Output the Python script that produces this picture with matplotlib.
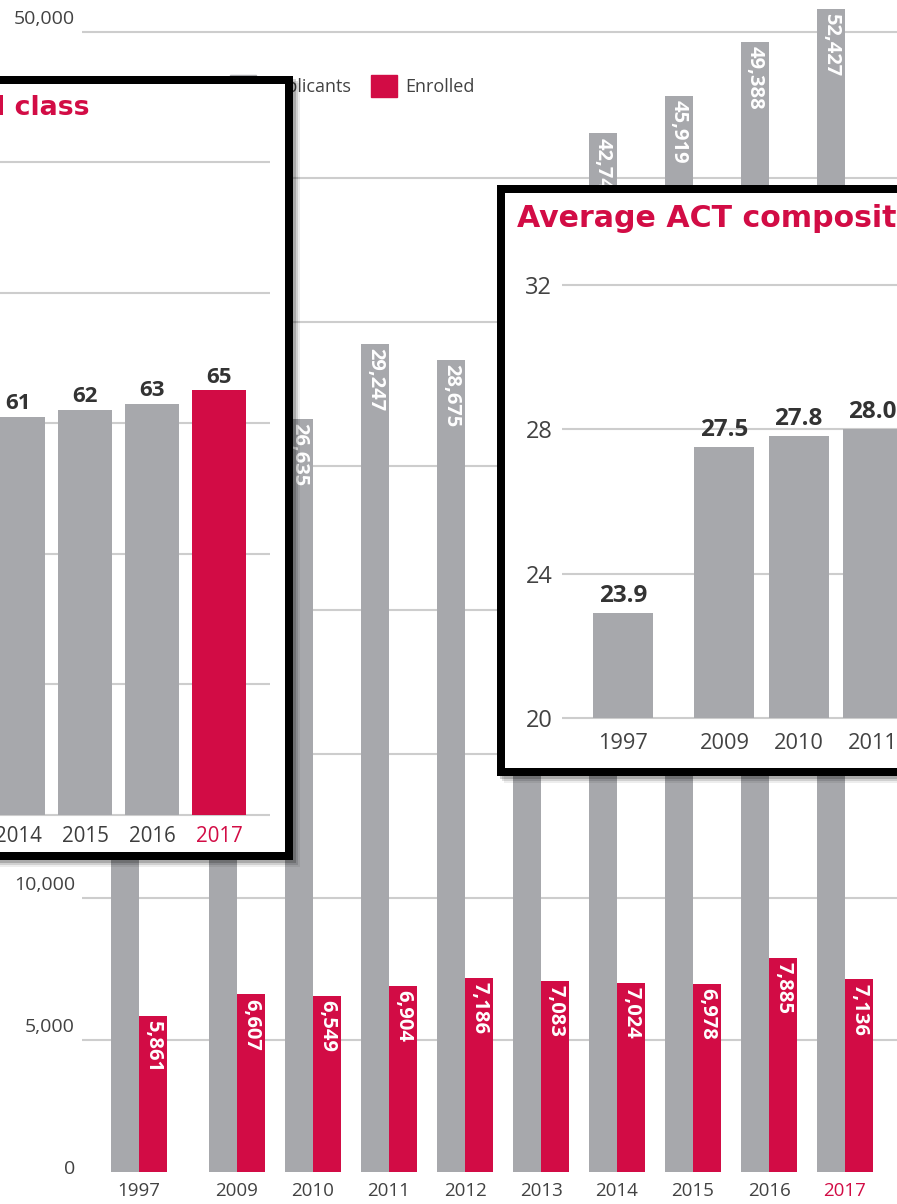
import matplotlib.pyplot as plt
import numpy as np
from matplotlib.patches import Rectangle, Patch

plt.rcParams['font.family'] = ['Open Sans', 'DejaVu Sans']

# ---- main chart: applicants vs enrolled ----
years = ['1997', '2009', '2010', '2011', '2012', '2013', '2014', '2015', '2016', '2017']
applicants = [16000, 22000, 26635, 29247, 28675, 32000, 42741, 45919, 49388, 52427]
enrolled = [5861, 6607, 6549, 6904, 7186, 7083, 7024, 6978, 7885, 7136]

# ---- inset 1: share of the class (%) ----
top_years = ['2014', '2015', '2016', '2017']
top_pct = [61, 62, 63, 65]

# ---- inset 2: average ACT composite ----
act_years = ['1997', '2009', '2010', '2011']
act_bar = [22.9, 27.5, 27.8, 28.0]        # heights as drawn on the axis
act_text = ['23.9', '27.5', '27.8', '28.0']  # numbers printed over the bars

# the main chart's value axis is not even: breakpoints (value -> px above base)
scale_vals = [0, 5000, 10000, 35000, 40000, 45000, 50000, 55000]
scale_px = [0, 132, 274, 994, 1010, 1062, 1140, 1188]

GRAY = '#A7A8AC'
RED = '#D20C45'
GRID = '#CDCDCD'
TXT = '#424242'
DARK = '#333333'

W, H = 897, 1204
fig = plt.figure(figsize=(W / 100, H / 100), dpi=100)
fig.patch.set_facecolor('white')


def box(l, t, r, b):
    # pixel box (from top-left) -> figure fraction
    return [l / W, 1 - b / H, (r - l) / W, (b - t) / H]


def framed(l, t, r, b):
    # white panel with thick black border and a soft drop shadow
    for k, a in [(3, 0.18), (5, 0.12), (7, 0.07)]:
        fig.add_artist(Rectangle(((l - 4 + k) / W, 1 - (b + 4 + k) / H),
                                 (r - l + 8) / W, (b - t + 8) / H,
                                 transform=fig.transFigure, fc='black',
                                 ec='none', alpha=a, zorder=1.5))
    fig.add_artist(Rectangle((l / W, 1 - b / H), (r - l) / W, (b - t) / H,
                             transform=fig.transFigure, fc='white', ec='black',
                             lw=5.76, zorder=2))


# ================= main chart =================
ax = fig.add_axes(box(82, 0, 897, 1172))
fwd = lambda v: np.interp(v, scale_vals, scale_px)
inv = lambda u: np.interp(u, scale_px, scale_vals)
ax.set_yscale('function', functions=(fwd, inv))
ax.set_ylim(0, inv(1172))

x = np.array([0] + list(np.arange(9) + 1.29))
w = 0.368
ax.bar(x - w / 2, applicants, w, color=GRAY, zorder=2)
ax.bar(x + w / 2, enrolled, w, color=RED, zorder=2)
ax.set_xlim(-0.75, 9.974)

for xi, v in zip(x - w / 2, applicants):
    ax.annotate(f'{v:,}', (xi, v), xytext=(0, -3), textcoords='offset points',
                rotation=-90, ha='center', va='top', color='white', fontsize=14.5,
                fontweight='bold', zorder=3)
for xi, v in zip(x + w / 2, enrolled):
    ax.annotate(f'{v:,}', (xi, v), xytext=(0, -3), textcoords='offset points',
                rotation=-90, ha='center', va='top', color='white', fontsize=14.5,
                fontweight='bold', zorder=3)

# gridlines, with the value labels sitting just above each line
yt = [0, 5000, 10000, 15000, 20000, 25000, 30000, 35000, 50000]
ax.set_yticks(yt)
ax.tick_params(axis='y', length=0, labelleft=False)
for v in yt:
    lift = 2 if v == 0 else 9
    ax.annotate(f'{v:,}', (0, v), xycoords=('axes fraction', 'data'),
                xytext=(-5, lift), textcoords='offset points', ha='right',
                va='center', fontsize=14, color=TXT)
ax.set_xticks(x)
ax.set_xticklabels(years)
ax.tick_params(axis='x', length=0, pad=7, labelsize=13.5, labelcolor=TXT)
ax.get_xticklabels()[-1].set_color(RED)
ax.yaxis.grid(True, color=GRID, lw=1.5)
ax.set_axisbelow(True)
ax.get_ygridlines()[0].set_visible(False)
for s in ax.spines.values():
    s.set_visible(False)

ax.legend(handles=[Patch(color=GRAY), Patch(color=RED)],
          labels=['Applicants', 'Enrolled'], loc='center left',
          bbox_to_anchor=(230 / W, 1 - 86 / H), bbox_transform=fig.transFigure,
          ncol=2, frameon=False, fontsize=13, handlelength=1.45,
          handleheight=1.45, handletextpad=0.45, columnspacing=1.1,
          borderpad=0, borderaxespad=0, labelcolor=TXT)

# ================= inset 1 =================
framed(-400, 80, 289, 856)
ax2 = fig.add_axes(box(-10, 149, 270, 818))
ax2.set_zorder(3)
ax2.patch.set_visible(False)
xt = np.arange(len(top_years))
ax2.bar(xt, top_pct, 0.806, color=[GRAY] * 3 + [RED], zorder=2)
ax2.set_xlim(-0.418, 3.761)
ax2.set_ylim(-0.5, 102)
ax2.set_yticks(range(0, 101, 20))
ax2.yaxis.grid(True, color=GRID, lw=1.5)
ax2.set_axisbelow(True)
ax2.set_xticks(xt)
ax2.set_xticklabels(top_years)
ax2.tick_params(axis='y', length=0, labelleft=False)
ax2.tick_params(axis='x', length=0, pad=6, labelsize=14.8, labelcolor='#3D3D3D')
ax2.get_xticklabels()[-1].set_color(RED)
for s in ax2.spines.values():
    s.set_visible(False)
for xi, v in zip(xt, top_pct):
    ax2.annotate(f'{v}', (xi, v), xytext=(0, 2), textcoords='offset points',
                 ha='center', va='bottom', color=DARK, fontsize=16,
                 fontweight='bold')
fig.text(90 / W, 1 - 108 / H, 'Top 10% of high school class', ha='right',
         va='center', color=RED, fontsize=19.3, fontweight='bold',
         family=['DejaVu Sans'], zorder=5)

# ================= inset 2 =================
framed(501, 189, 1300, 772)
ax3 = fig.add_axes(box(562, 274, 1000, 721.6))
ax3.set_zorder(3)
ax3.patch.set_visible(False)
xa = np.array([0, 1.37, 2.37, 3.37])
ax3.bar(xa, np.array(act_bar) - 20, 0.81, bottom=20, color=GRAY, zorder=2)
ax3.set_xlim(-0.824, 5.09)
ax3.set_ylim(19.9, 32.3)
ax3.set_yticks([20, 24, 28, 32])
ax3.yaxis.grid(True, color=GRID, lw=1.5)
ax3.set_axisbelow(True)
ax3.set_xticks(xa)
ax3.set_xticklabels(act_years)
ax3.tick_params(axis='y', length=0, pad=7, labelsize=17, labelcolor=TXT)
ax3.tick_params(axis='x', length=0, pad=8, labelsize=15.7, labelcolor=TXT)
for s in ax3.spines.values():
    s.set_visible(False)
for xi, v, t in zip(xa, act_bar, act_text):
    ax3.annotate(t, (xi, v), xytext=(0, 4), textcoords='offset points',
                 ha='center', va='bottom', color=DARK, fontsize=17.5,
                 fontweight='bold')
fig.text(517 / W, 1 - 219 / H, 'Average ACT composite score', ha='left',
         va='center', color=RED, fontsize=21.6, fontweight='bold',
         family=['DejaVu Sans'], zorder=5)

fig.savefig('out.png', dpi=100, facecolor='white')
